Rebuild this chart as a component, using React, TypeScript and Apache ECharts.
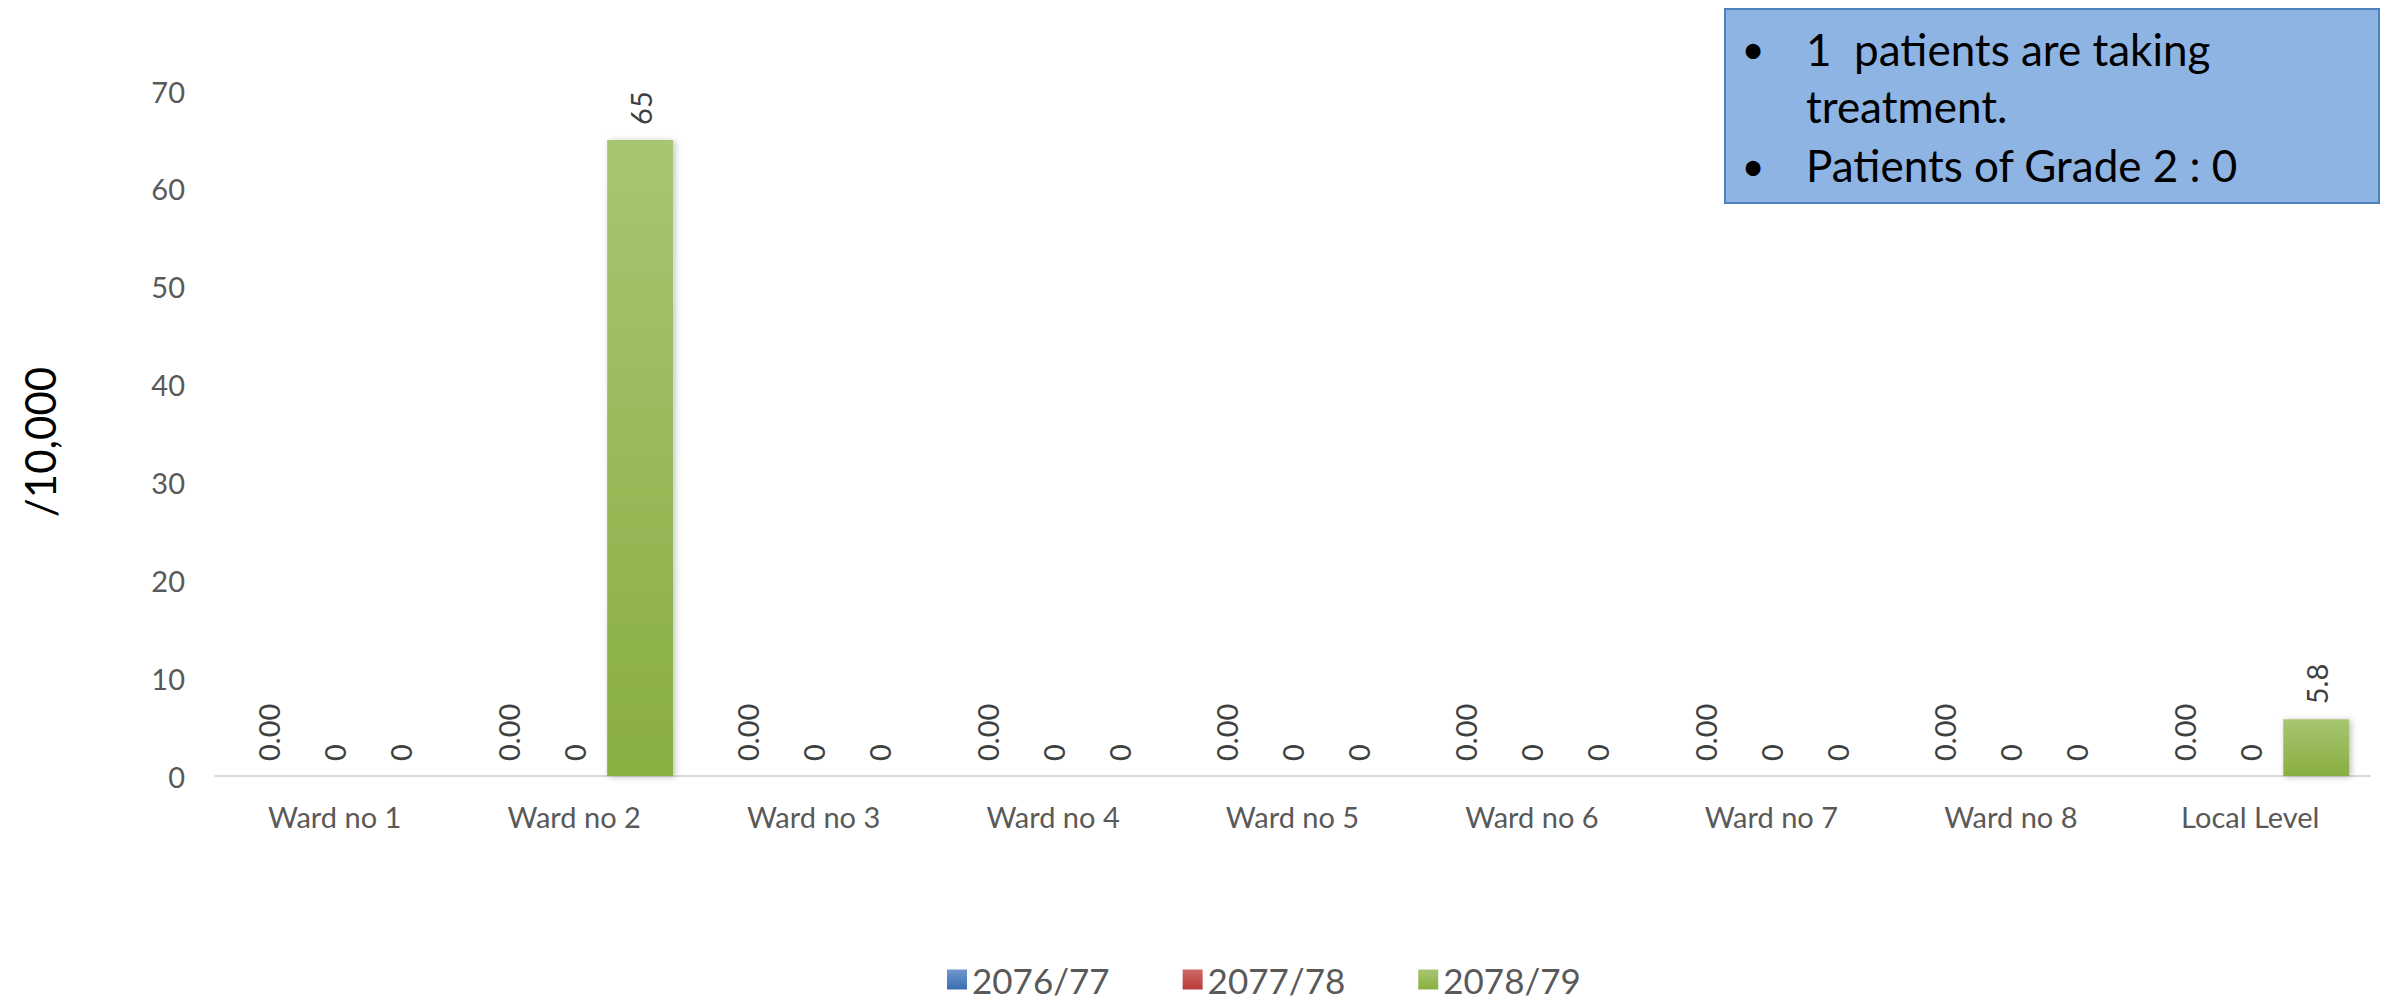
import React, { useEffect, useRef } from "react";
import * as echarts from "echarts";

const categories = [
  "Ward no 1",
  "Ward no 2",
  "Ward no 3",
  "Ward no 4",
  "Ward no 5",
  "Ward no 6",
  "Ward no 7",
  "Ward no 8",
  "Local Level",
];
const seriesNames = ["2076/77", "2077/78", "2078/79"];
const values2076 = [0, 0, 0, 0, 0, 0, 0, 0, 0];
const values2077 = [0, 0, 0, 0, 0, 0, 0, 0, 0];
const values2078 = [0, 65, 0, 0, 0, 0, 0, 0, 5.8];
const yTicks = { min: 0, max: 70, interval: 10 };
const yAxisTitle = "/10,000";
const noteLines = ["1  patients are taking", "treatment.", "Patients of Grade 2 : 0"];

const FONT = "Lato";

function grad(top: string, bottom: string) {
  return new echarts.graphic.LinearGradient(0, 0, 0, 1, [
    { offset: 0, color: top },
    { offset: 1, color: bottom },
  ]);
}

export default function App() {
  const ref = useRef<HTMLDivElement>(null);

  useEffect(() => {
    if (!ref.current) return;
    const chart = echarts.init(ref.current, undefined, { renderer: "svg" });

    const labelBase = {
      show: true,
      position: "top" as const,
      rotate: 90,
      align: "left",
      verticalAlign: "middle",
      distance: 15,
      color: "#404040",
      fontFamily: FONT,
      fontSize: 29,
    };
    const shadow = {
      shadowColor: "rgba(0,0,0,0.25)",
      shadowBlur: 6,
      shadowOffsetX: 2,
      shadowOffsetY: 1,
    };
    const noteText = (text: string, x: number, y: number) => ({
      type: "text",
      x,
      y,
      z: 11,
      style: {
        text,
        fill: "#000",
        fontFamily: FONT,
        fontSize: 44,
        align: "left",
        verticalAlign: "middle",
      },
    });
    const bullet = (y: number) => ({
      type: "text",
      x: 1753,
      y,
      z: 11,
      style: { text: "•", fill: "#000", fontFamily: FONT, fontSize: 40, align: "center", verticalAlign: "middle" },
    });

    const option: any = {
      animation: false,
      backgroundColor: "#ffffff",
      textStyle: { fontFamily: FONT },
      grid: {
        left: 215,
        right: 12,
        top: 91,
        bottom: 225,
        containLabel: false,
        outerBoundsMode: "none",
      },
      legend: {
        left: 942,
        top: 957,
        itemWidth: 20,
        itemHeight: 20,
        itemGap: 73,
        icon: "rect",
        textStyle: { fontFamily: FONT, fontSize: 35, color: "#595959" },
        data: seriesNames,
      },
      xAxis: {
        type: "category",
        data: categories,
        axisLine: { show: true, lineStyle: { color: "#D9D9D9", width: 2 } },
        axisTick: { show: false },
        axisLabel: {
          color: "#595959",
          fontFamily: FONT,
          fontSize: 29,
          margin: 26,
          interval: 0,
        },
      },
      yAxis: {
        type: "value",
        min: yTicks.min,
        max: yTicks.max,
        interval: yTicks.interval,
        axisLine: { show: false },
        axisTick: { show: false },
        splitLine: { show: false },
        axisLabel: { color: "#595959", fontFamily: FONT, fontSize: 29, margin: 30 },
      },
      series: [
        {
          name: seriesNames[0],
          type: "bar",
          data: values2076,
          barWidth: 66,
          barGap: "0%",
          itemStyle: { color: grad("#6F98CD", "#3B6EB3"), ...shadow },
          label: { ...labelBase, formatter: (p: any) => Number(p.value).toFixed(2) },
        },
        {
          name: seriesNames[1],
          type: "bar",
          data: values2077,
          barWidth: 66,
          barGap: "0%",
          itemStyle: { color: grad("#CE6A67", "#B83B38"), ...shadow },
          label: { ...labelBase, formatter: (p: any) => String(p.value) },
        },
        {
          name: seriesNames[2],
          type: "bar",
          data: values2078,
          barWidth: 66,
          barGap: "0%",
          itemStyle: { color: grad("#A7C671", "#89AE42"), ...shadow },
          label: { ...labelBase, formatter: (p: any) => String(p.value) },
        },
      ],
      graphic: [
        {
          type: "text",
          x: 40,
          y: 442,
          rotation: Math.PI / 2,
          style: {
            text: yAxisTitle,
            fill: "#000",
            fontFamily: FONT,
            fontSize: 42,
            align: "center",
            verticalAlign: "middle",
          },
        },
        {
          type: "rect",
          shape: { x: 1725, y: 9, width: 654, height: 194 },
          style: { fill: "#8DB4E2", stroke: "#4F81BD", lineWidth: 2 },
          z: 10,
        },
        bullet(49),
        bullet(166),
        noteText(noteLines[0], 1806, 49),
        noteText(noteLines[1], 1806, 106),
        noteText(noteLines[2], 1806, 165),
      ],
    };

    chart.setOption(option);
    return () => chart.dispose();
  }, []);

  return (
    <div
      ref={ref}
      style={{ position: "fixed", left: 0, top: 0, width: 2382, height: 1001, background: "#fff" }}
    />
  );
}
